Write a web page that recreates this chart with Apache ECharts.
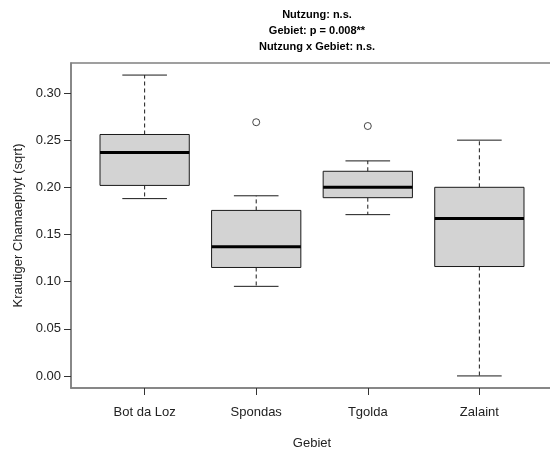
<!DOCTYPE html>
<html>
<head>
<meta charset="utf-8">
<script src="https://cdn.jsdelivr.net/npm/echarts@6/dist/echarts.min.js"></script>
<style>html,body{margin:0;padding:0;background:#fff;}#c{width:550px;height:450px;}</style>
</head>
<body>
<div id="c"></div>
<script>
var categories = ['Bot da Loz', 'Spondas', 'Tgolda', 'Zalaint'];
var whiskerLow = [0.188, 0.095, 0.171, 0.000];
var q1 = [0.202, 0.115, 0.189, 0.116];
var median = [0.237, 0.137, 0.200, 0.167];
var q3 = [0.256, 0.1755, 0.217, 0.200];
var whiskerHigh = [0.319, 0.191, 0.228, 0.250];
var outlierCat = [1, 2];
var outlierVal = [0.269, 0.265];
var yTicks = [0, 0.05, 0.10, 0.15, 0.20, 0.25, 0.30];
var titleLines = ['Nutzung: n.s.', 'Gebiet: p = 0.008**', 'Nutzung x Gebiet: n.s.'];

var boxData = categories.map(function (c, i) {
  return [i + 1, whiskerLow[i], q1[i], median[i], q3[i], whiskerHigh[i]];
});
var outData = outlierCat.map(function (c, i) { return [c + 1, outlierVal[i]]; });

var ink = '#1a1a1a';
function renderBox(params, api) {
  var x = api.value(0);
  var lo = api.value(1), a = api.value(2), m = api.value(3), b = api.value(4), hi = api.value(5);
  var hw = 0.4, cw = 0.2;
  function P(xx, yy) { return api.coord([xx, yy]); }
  var dash = { stroke: ink, lineWidth: 1, lineDash: [4, 3] };
  var solid = { stroke: ink, lineWidth: 1 };
  var pLoL = P(x - hw, b), pHiR = P(x + hw, a);
  return {
    type: 'group',
    children: [
      { type: 'line', shape: { x1: P(x, b)[0], y1: P(x, b)[1], x2: P(x, hi)[0], y2: P(x, hi)[1] }, style: dash },
      { type: 'line', shape: { x1: P(x, a)[0], y1: P(x, a)[1], x2: P(x, lo)[0], y2: P(x, lo)[1] }, style: dash },
      { type: 'line', shape: { x1: P(x - cw, hi)[0], y1: P(x, hi)[1], x2: P(x + cw, hi)[0], y2: P(x, hi)[1] }, style: solid },
      { type: 'line', shape: { x1: P(x - cw, lo)[0], y1: P(x, lo)[1], x2: P(x + cw, lo)[0], y2: P(x, lo)[1] }, style: solid },
      { type: 'rect', shape: { x: pLoL[0], y: pLoL[1], width: pHiR[0] - pLoL[0], height: pHiR[1] - pLoL[1] },
        style: { fill: '#d3d3d3', stroke: ink, lineWidth: 1 } },
      { type: 'line', shape: { x1: P(x - hw, m)[0], y1: P(x, m)[1], x2: P(x + hw, m)[0], y2: P(x, m)[1] },
        style: { stroke: '#000', lineWidth: 3 } }
    ]
  };
}

var chart = echarts.init(document.getElementById('c'), null, { renderer: 'canvas' });
chart.setOption({
  animation: false,
  backgroundColor: '#fff',
  textStyle: { fontFamily: 'Liberation Sans, Arial, sans-serif' },
  title: {
    text: titleLines.join('\n'),
    left: 312, top: 2, textAlign: 'center',
    textStyle: { fontSize: 11, fontWeight: 'bold', color: '#000', lineHeight: 16, fontFamily: 'Liberation Sans, Arial, sans-serif' }
  },
  grid: { left: 71, top: 63, width: 482, height: 325, outerBoundsMode: 'none', containLabel: false,
    show: true, borderColor: '#808080', borderWidth: 1.5, backgroundColor: 'transparent' },
  xAxis: {
    type: 'value', min: 0.34, max: 4.66,
    name: 'Gebiet', nameLocation: 'middle', nameGap: 49,
    nameTextStyle: { fontSize: 13, color: '#222' },
    axisLine: { show: true, onZero: false, lineStyle: { color: '#808080', width: 1.5 } },
    axisTick: { show: true, inside: false, length: 7, customValues: [1, 2, 3, 4], lineStyle: { color: '#333' } },
    axisLabel: { show: true, margin: 18, fontSize: 13, color: '#222', customValues: [1, 2, 3, 4],
      formatter: function (v) { return categories[Math.round(v) - 1] || ''; } },
    splitLine: { show: false }
  },
  yAxis: {
    type: 'value', min: -0.0128, max: 0.3318,
    name: 'Krautiger Chamaephyt (sqrt)', nameLocation: 'middle', nameGap: 46, nameRotate: 90,
    nameTextStyle: { fontSize: 13, color: '#222' },
    axisLine: { show: true, onZero: false, lineStyle: { color: '#808080', width: 1.5 } },
    axisTick: { show: true, inside: false, length: 7, customValues: yTicks, lineStyle: { color: '#333' } },
    axisLabel: { show: true, margin: 10, fontSize: 13, color: '#222', customValues: yTicks,
      formatter: function (v) { return v.toFixed(2); } },
    splitLine: { show: false }
  },
  series: [
    { type: 'custom', renderItem: renderBox, data: boxData, encode: { x: 0, y: [1, 2, 3, 4, 5] }, clip: false },
    { type: 'scatter', data: outData, symbol: 'circle', symbolSize: 7,
      itemStyle: { color: 'transparent', borderColor: ink, borderWidth: 1 } }
  ]
});
</script>
</body>
</html>
